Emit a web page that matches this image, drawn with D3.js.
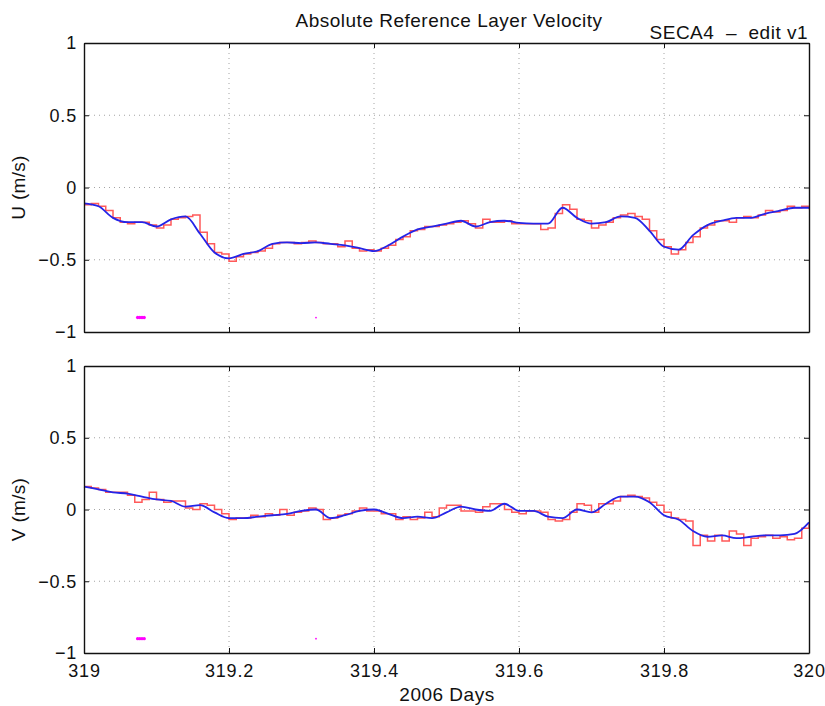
<!DOCTYPE html>
<html>
<head>
<meta charset="utf-8">
<script src="https://cdn.jsdelivr.net/npm/d3@7"></script>
<style>
  body { margin: 0; background: #fff; }
  svg { font-family: "Liberation Sans", Arial, sans-serif; }
</style>
</head>
<body>
<div id="chart"></div>
<script>
// x ticks and y ticks
var xTicks = [319, 319.2, 319.4, 319.6, 319.8, 320];
var yTicks = [1, 0.5, 0, -0.5, -1];

// smoothed series, one value every 0.02 day from 319
var uSmooth = [-0.11, -0.13, -0.21, -0.24, -0.24, -0.27, -0.22, -0.20, -0.32, -0.45,
  -0.49, -0.46, -0.44, -0.39, -0.38, -0.385, -0.38, -0.39, -0.40, -0.42,
  -0.44, -0.40, -0.34, -0.29, -0.27, -0.25, -0.23, -0.27, -0.24, -0.23,
  -0.245, -0.25, -0.25, -0.14, -0.21, -0.25, -0.24, -0.20, -0.21, -0.30,
  -0.41, -0.43, -0.33, -0.26, -0.23, -0.21, -0.21, -0.18, -0.16, -0.14, -0.14];
var vSmooth = [0.16, 0.14, 0.12, 0.11, 0.09, 0.07, 0.06, 0.02, 0.03, -0.02,
  -0.06, -0.06, -0.05, -0.04, -0.03, -0.01, 0.00, -0.06, -0.04, -0.01,
  0.00, -0.03, -0.06, -0.05, -0.06, -0.02, 0.02, 0.00, -0.01, 0.04,
  -0.01, -0.01, -0.05, -0.06, 0.00, -0.02, 0.04, 0.09, 0.09, 0.05,
  -0.04, -0.07, -0.15, -0.19, -0.18, -0.20, -0.19, -0.18, -0.18, -0.17, -0.09];

// raw series, one value every 0.01 day from 319 (drawn as stairs)
var uRaw = [-0.12, -0.11, -0.13, -0.16, -0.21, -0.24, -0.25, -0.24, -0.24, -0.26,
  -0.28, -0.26, -0.22, -0.21, -0.20, -0.19, -0.31, -0.39, -0.45, -0.46,
  -0.51, -0.48, -0.46, -0.45, -0.44, -0.42, -0.39, -0.38, -0.38, -0.39,
  -0.38, -0.37, -0.38, -0.39, -0.39, -0.41, -0.37, -0.42, -0.44, -0.43,
  -0.44, -0.42, -0.40, -0.36, -0.34, -0.30, -0.29, -0.27, -0.27, -0.26,
  -0.25, -0.24, -0.23, -0.25, -0.28, -0.22, -0.24, -0.24, -0.23, -0.25,
  -0.25, -0.25, -0.25, -0.29, -0.28, -0.18, -0.12, -0.15, -0.22, -0.23,
  -0.28, -0.26, -0.24, -0.21, -0.19, -0.18, -0.20, -0.22, -0.30, -0.36,
  -0.41, -0.46, -0.43, -0.38, -0.34, -0.28, -0.26, -0.23, -0.23, -0.24,
  -0.21, -0.20, -0.21, -0.19, -0.16, -0.17, -0.16, -0.13, -0.14, -0.13, -0.15];
var vRaw = [0.16, 0.15, 0.14, 0.12, 0.12, 0.12, 0.10, 0.05, 0.07, 0.12,
  0.07, 0.05, 0.06, 0.06, 0.01, 0.00, 0.04, 0.03, 0.00, -0.03,
  -0.07, -0.06, -0.06, -0.04, -0.05, -0.03, -0.04, 0.00, -0.04, -0.02,
  -0.01, 0.01, 0.00, -0.07, -0.06, -0.04, -0.03, -0.01, 0.01, -0.01,
  -0.01, -0.03, -0.03, -0.07, -0.05, -0.07, -0.06, -0.02, -0.05, 0.01,
  0.03, 0.03, -0.01, -0.01, -0.02, 0.02, 0.04, 0.04, 0.00, -0.02,
  -0.03, -0.01, -0.01, -0.02, -0.07, -0.08, -0.07, -0.02, 0.04, 0.03,
  -0.02, 0.04, 0.04, 0.06, 0.09, 0.10, 0.09, 0.08, 0.05, 0.03,
  -0.02, -0.06, -0.07, -0.08, -0.25, -0.18, -0.22, -0.18, -0.22, -0.15,
  -0.17, -0.25, -0.20, -0.19, -0.18, -0.20, -0.19, -0.21, -0.20, -0.13, -0.09];

// flagged samples (magenta marks at -0.9)
var flagDays = [319.074, 319.077, 319.080, 319.083, 319.32];
var flagLevel = -0.9;

var width = 825, height = 706;
var left = 84, right = 809;
var panels = [
  {label: "U (m/s)", top: 43, bottom: 332, raw: uRaw, smooth: uSmooth},
  {label: "V (m/s)", top: 366, bottom: 653, raw: vRaw, smooth: vSmooth}
];

var svg = d3.select("#chart").append("svg")
  .attr("width", width)
  .attr("height", height);

var x = d3.scaleLinear().domain([319, 320]).range([left, right]);
var fmt = function(d) { return String(d).replace("-", "\u2212"); };

panels.forEach(function(p, k) {
  var y = d3.scaleLinear().domain([-1, 1]).range([p.bottom, p.top]);
  var g = svg.append("g");

  //dotted grid
  g.selectAll(".gx").data(xTicks.slice(1, -1)).enter().append("line")
    .attr("x1", function(d) { return x(d); }).attr("x2", function(d) { return x(d); })
    .attr("y1", p.top).attr("y2", p.bottom)
    .attr("stroke", "#999").attr("stroke-width", 0.9).attr("stroke-dasharray", "1,4");
  g.selectAll(".gy").data(yTicks.slice(1, -1)).enter().append("line")
    .attr("x1", left).attr("x2", right)
    .attr("y1", function(d) { return y(d); }).attr("y2", function(d) { return y(d); })
    .attr("stroke", "#999").attr("stroke-width", 0.9).attr("stroke-dasharray", "1,4");

  //raw stairs
  var rawLine = d3.line()
    .x(function(d, i) { return x(319 + i * 0.01); })
    .y(function(d) { return y(d); })
    .curve(d3.curveStepAfter);
  g.append("path").datum(p.raw)
    .attr("d", rawLine)
    .attr("fill", "none").attr("stroke", "#ff5a5a").attr("stroke-width", 1.5);

  //smooth line
  var smoothLine = d3.line()
    .x(function(d, i) { return x(319 + i * 0.02); })
    .y(function(d) { return y(d); })
    .curve(d3.curveMonotoneX);
  g.append("path").datum(p.smooth)
    .attr("d", smoothLine)
    .attr("fill", "none").attr("stroke", "#2424e8").attr("stroke-width", 1.8);

  //flags
  g.selectAll(".flag").data(flagDays).enter().append("circle")
    .attr("cx", function(d) { return x(d); })
    .attr("cy", y(flagLevel))
    .attr("r", function(d, i) { return i < 4 ? 1.7 : 0.9; })
    .attr("fill", "#ff00ff");

  //axes, ticks inward
  var axL = d3.axisLeft(y).tickValues(yTicks).tickSizeInner(-5).tickSizeOuter(0).tickPadding(7).tickFormat(fmt);
  var axR = d3.axisRight(y).tickValues(yTicks).tickSizeInner(-5).tickSizeOuter(0).tickFormat("");
  var axT = d3.axisTop(x).tickValues(xTicks).tickSizeInner(-5).tickSizeOuter(0).tickFormat("");
  var axB = d3.axisBottom(x).tickValues(xTicks).tickSizeInner(-5).tickSizeOuter(0).tickPadding(11)
    .tickFormat(k === 1 ? d3.format("") : "");

  [[axL, "translate(" + left + ",0)"], [axR, "translate(" + right + ",0)"],
   [axT, "translate(0," + p.top + ")"], [axB, "translate(0," + p.bottom + ")"]].forEach(function(a) {
    var ax = g.append("g").attr("transform", a[1]).call(a[0]);
    ax.selectAll("path").attr("stroke", "#111").attr("stroke-width", 1.4);
    ax.selectAll("line").attr("stroke", "#111");
    ax.selectAll("text").attr("fill", "#111").style("font-size", "18px")
      .style("letter-spacing", "0.8px")
      .style("font-family", "'Liberation Sans', Arial, sans-serif");
  });

  svg.append("text")
    .attr("transform", "translate(25," + ((p.top + p.bottom) / 2) + ") rotate(-90)")
    .attr("text-anchor", "middle")
    .style("font-size", "19px")
    .style("letter-spacing", "0.3px")
    .attr("fill", "#111")
    .text(p.label);
});

svg.append("text").attr("x", 449).attr("y", 27).attr("text-anchor", "middle")
  .style("font-size", "19px").style("letter-spacing", "0.5px").attr("fill", "#111")
  .text("Absolute Reference Layer Velocity");
svg.append("text").attr("x", 808).attr("y", 39).attr("text-anchor", "end")
  .style("font-size", "19px").style("letter-spacing", "0.5px").attr("fill", "#111")
  .style("white-space", "pre").attr("xml:space", "preserve")
  .text("SECA4  \u2013  edit v1");
svg.append("text").attr("x", 447).attr("y", 701).attr("text-anchor", "middle")
  .style("font-size", "19px").style("letter-spacing", "0.5px").attr("fill", "#111")
  .text("2006 Days");
</script>
</body>
</html>
